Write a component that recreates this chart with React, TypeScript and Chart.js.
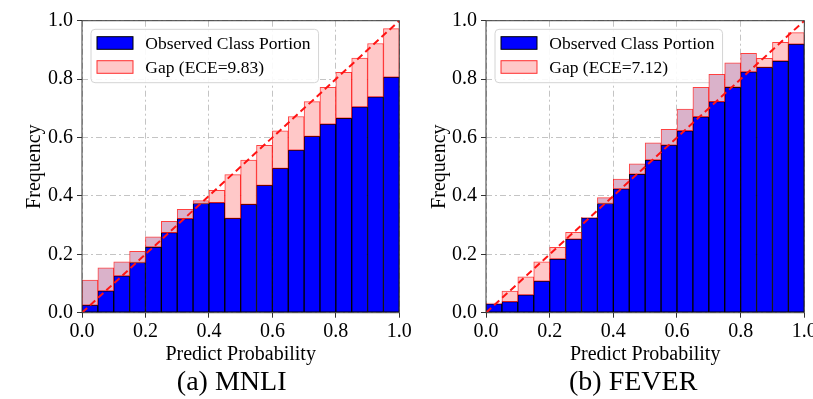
import React, { useEffect, useRef } from "react";
import { Chart, registerables } from "chart.js";

Chart.register(...registerables);

// ---------------- data ----------------
const binCenters = [
  0.025, 0.075, 0.125, 0.175, 0.225, 0.275, 0.325, 0.375, 0.425, 0.475,
  0.525, 0.575, 0.625, 0.675, 0.725, 0.775, 0.825, 0.875, 0.925, 0.975,
];
const axisTicks = [0, 0.2, 0.4, 0.6, 0.8, 1.0];
const diagonalX = [0, 1];
const diagonalY = [0, 1];

const mnliAccuracy = [
  0.112, 0.154, 0.174, 0.21, 0.26, 0.313, 0.354, 0.384, 0.377, 0.323,
  0.371, 0.436, 0.494, 0.557, 0.604, 0.646, 0.666, 0.705, 0.739, 0.807,
];
const mnliConfidence = [
  0.026, 0.075, 0.126, 0.172, 0.225, 0.274, 0.322, 0.374, 0.419, 0.473,
  0.523, 0.573, 0.623, 0.672, 0.723, 0.772, 0.823, 0.872, 0.922, 0.973,
];
const feverAccuracy = [
  0.03, 0.038, 0.061, 0.108, 0.184, 0.252, 0.325, 0.394, 0.458, 0.51,
  0.582, 0.628, 0.697, 0.772, 0.816, 0.856, 0.888, 0.84, 0.862, 0.92,
];
const feverConfidence = [
  0.033, 0.074, 0.123, 0.174, 0.224, 0.275, 0.327, 0.374, 0.424, 0.474,
  0.523, 0.574, 0.623, 0.671, 0.723, 0.772, 0.825, 0.871, 0.926, 0.959,
];

const accuracyLabel = "Observed Class Portion";
const mnliGapLabel = "Gap (ECE=9.83)";
const feverGapLabel = "Gap (ECE=7.12)";
const xTitle = "Predict Probability";
const yTitle = "Frequency";
const mnliCaption = "(a) MNLI";
const feverCaption = "(b) FEVER";

// ---------------- styles ----------------
const FONT = "'Liberation Serif', 'Times New Roman', serif";
const BLUE = "#0000ff";
const PINK = "rgb(255,200,200)";
const MAUVE = "rgb(218,178,202)";
const GAP_EDGE = "rgba(255,0,0,0.75)";
const GRID = "rgba(190,190,190,0.9)";

Chart.defaults.font.family = FONT;
Chart.defaults.color = "#000";

type PanelProps = {
  accuracy: number[];
  confidence: number[];
  gapLabel: string;
  caption: string;
  left: number;
  width: number;
  yAxisWidth: number;
  rightPad: number;
  yTitlePad: number;
  captionShift: number;
};

function Panel(p: PanelProps) {
  const ref = useRef<HTMLCanvasElement | null>(null);

  useEffect(() => {
    const canvas = ref.current;
    if (!canvas) return;
    const lower = p.accuracy.map((a, i) => Math.min(a, p.confidence[i]));
    const upper = p.accuracy.map((a, i) => Math.max(a, p.confidence[i]));
    const gapColors = p.accuracy.map((a, i) => (a > p.confidence[i] ? MAUVE : PINK));

    const overlay = {
      id: "frameLegend",
      beforeDatasetsDraw(chart: any) {
        const { ctx, chartArea: a } = chart;
        ctx.save();
        ctx.setLineDash([]);
        ctx.font = `17.5px ${FONT}`;
        const tw = Math.max(ctx.measureText(accuracyLabel).width, ctx.measureText(p.gapLabel).width);
        const fx = a.left + 9;
        const fy = a.top + 8.6;
        const fw = 6 + 36 + 12.3 + tw + 8;
        const fh = 53.4;
        ctx.beginPath();
        if ((ctx as any).roundRect) (ctx as any).roundRect(fx, fy, fw, fh, 4);
        else ctx.rect(fx, fy, fw, fh);
        ctx.fillStyle = "rgba(255,255,255,0.9)";
        ctx.fill();
        ctx.strokeStyle = "#d4d4d4";
        ctx.lineWidth = 1;
        ctx.stroke();

        const rows = [
          { label: accuracyLabel, fill: BLUE, edge: "#000", cy: fy + 13.7 },
          { label: p.gapLabel, fill: PINK, edge: "rgba(255,0,0,0.8)", cy: fy + 37.7 },
        ];
        for (const r of rows) {
          ctx.fillStyle = r.fill;
          ctx.fillRect(fx + 6, r.cy - 6.3, 36, 12.6);
          ctx.strokeStyle = r.edge;
          ctx.lineWidth = 1;
          ctx.strokeRect(fx + 6, r.cy - 6.3, 36, 12.6);
          ctx.fillStyle = "#000";
          ctx.textBaseline = "middle";
          ctx.textAlign = "left";
          ctx.fillText(r.label, fx + 6 + 36 + 12.3, r.cy + 1);
        }
        ctx.restore();
      },
      afterDraw(chart: any) {
        const { ctx, chartArea: a } = chart;
        ctx.save();
        ctx.setLineDash([]);
        ctx.strokeStyle = "#3a3a3a";
        ctx.lineWidth = 1;
        ctx.strokeRect(a.left, a.top, a.right - a.left, a.bottom - a.top);

        ctx.font = `28px ${FONT}`;
        ctx.textAlign = "center";
        ctx.textBaseline = "middle";
        ctx.fillStyle = "#000";
        ctx.fillText(p.caption, (a.left + a.right) / 2 + p.captionShift, 383);
        ctx.restore();
      },
    };

    const chart = new Chart(canvas, {
      type: "bar",
      data: {
        datasets: [
          {
            type: "line",
            label: "diag",
            data: diagonalX.map((x, i) => ({ x, y: diagonalY[i] })),
            borderColor: "rgb(255,20,20)",
            borderWidth: 2,
            borderDash: [7, 4],
            pointRadius: 0,
            fill: false,
            order: 0,
          } as any,
          {
            type: "bar",
            label: p.gapLabel,
            data: binCenters.map((x, i) => ({ x, y: [lower[i], upper[i]] })),
            backgroundColor: gapColors,
            borderColor: GAP_EDGE,
            borderWidth: 1,
            borderSkipped: false,
            grouped: false,
            barPercentage: 1,
            categoryPercentage: 1,
            order: 1,
          } as any,
          {
            type: "bar",
            label: accuracyLabel,
            data: binCenters.map((x, i) => ({ x, y: lower[i] })),
            backgroundColor: BLUE,
            borderColor: "#000",
            borderWidth: 1,
            borderSkipped: false,
            grouped: false,
            barPercentage: 1,
            categoryPercentage: 1,
            order: 2,
          } as any,
        ],
      },
      options: {
        responsive: false,
        animation: false,
        devicePixelRatio: 1,
        layout: { padding: { left: 0, top: 20.7, right: p.rightPad, bottom: 28 } },
        plugins: {
          legend: { display: false },
          tooltip: { enabled: false },
          title: { display: false },
        },
        scales: {
          x: {
            type: "linear",
            min: 0,
            max: 1,
            offset: false,
            afterBuildTicks: (s: any) => {
              s.ticks = axisTicks.map((v) => ({ value: v }));
            },
            afterFit: (s: any) => {
              s.height = 58.3;
              s.paddingLeft = 0;
              s.paddingRight = 0;
            },
            ticks: {
              callback: (v: any) => Number(v).toFixed(1),
              font: { size: 20 },
              color: "#000",
              padding: 2,
              maxRotation: 0,
              autoSkip: false,
            },
            grid: {
              offset: false,
              color: GRID,
              lineWidth: 1,
              tickColor: "#333",
              tickLength: 5,
              tickWidth: 1,
              tickBorderDash: [],
            },
            border: { display: false, dash: [6, 3, 2, 3] },
            title: {
              display: true,
              text: xTitle,
              font: { size: 20 },
              color: "#000",
              padding: { top: 0, bottom: 4 },
            },
          },
          y: {
            type: "linear",
            min: 0,
            max: 1,
            afterBuildTicks: (s: any) => {
              s.ticks = axisTicks.map((v) => ({ value: v }));
            },
            afterFit: (s: any) => {
              s.width = p.yAxisWidth;
              s.paddingTop = 0;
              s.paddingBottom = 0;
            },
            ticks: {
              callback: (v: any) => Number(v).toFixed(1),
              font: { size: 20 },
              color: "#000",
              padding: 4,
              autoSkip: false,
            },
            grid: {
              color: GRID,
              lineWidth: 1,
              tickColor: "#333",
              tickLength: 5,
              tickWidth: 1,
              tickBorderDash: [],
            },
            border: { display: false, dash: [6, 3, 2, 3] },
            title: {
              display: true,
              text: yTitle,
              font: { size: 20 },
              color: "#000",
              padding: { top: p.yTitlePad, bottom: 0 },
            },
          },
        },
      } as any,
      plugins: [overlay as any],
    });

    return () => chart.destroy();
  }, []);

  return (
    <canvas
      ref={ref}
      width={p.width}
      height={399}
      style={{ position: "absolute", left: p.left, top: 0, width: p.width, height: 399 }}
    />
  );
}

export default function App() {
  return (
    <div
      style={{
        position: "absolute",
        left: 0,
        top: 0,
        width: 813,
        height: 399,
        overflow: "hidden",
        background: "#fff",
      }}
    >
      <Panel
        accuracy={mnliAccuracy}
        confidence={mnliConfidence}
        gapLabel={mnliGapLabel}
        caption={mnliCaption}
        left={0}
        width={440}
        yAxisWidth={82}
        rightPad={40.7}
        yTitlePad={23}
        captionShift={-9}
      />
      <Panel
        accuracy={feverAccuracy}
        confidence={feverConfidence}
        gapLabel={feverGapLabel}
        caption={feverCaption}
        left={406}
        width={407}
        yAxisWidth={80}
        rightPad={8.7}
        yTitlePad={22}
        captionShift={-12}
      />
    </div>
  );
}
